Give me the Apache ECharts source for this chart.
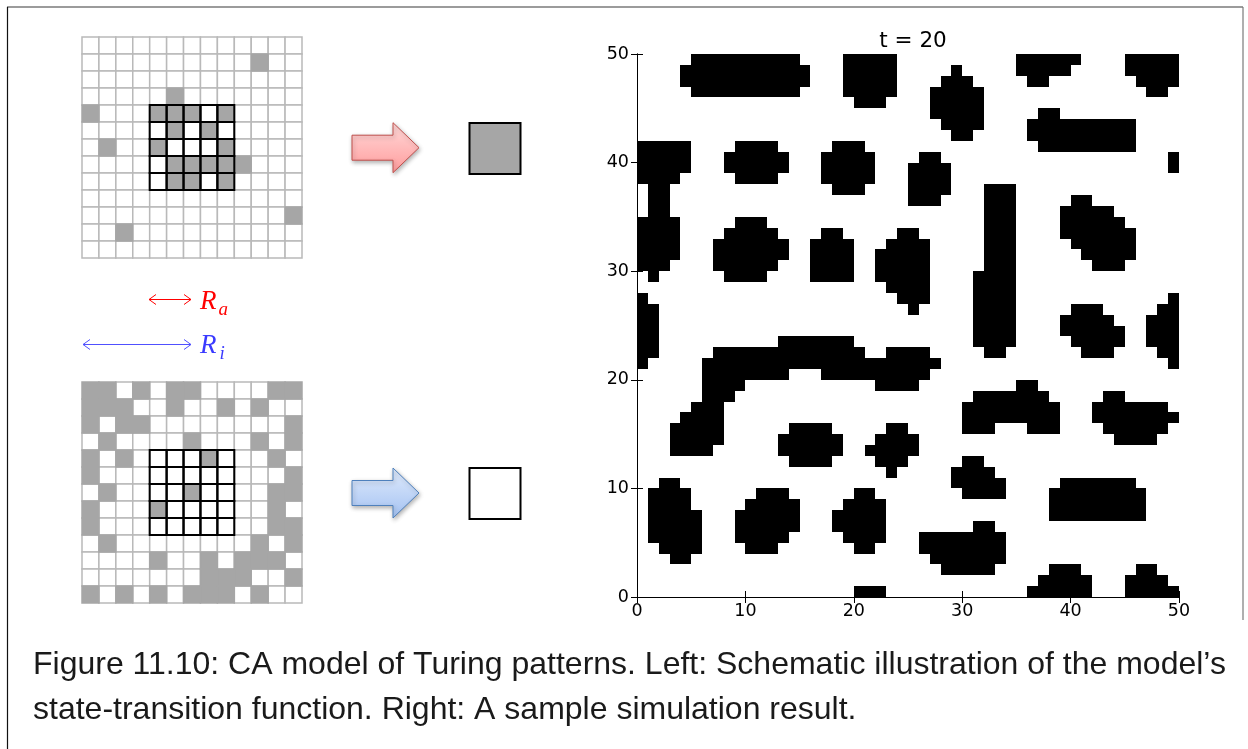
<!DOCTYPE html>
<html><head><meta charset="utf-8">
<script src="https://cdn.jsdelivr.net/npm/echarts@6/dist/echarts.min.js"></script>
<style>html,body{margin:0;padding:0;background:#fff}#c{width:1248px;height:749px}</style>
</head><body><div id="c"></div>
<script>
// ---------- DATA ----------
// Simulation state at t = 20: black runs [fromCol, toCol] per row, row 0 = top (y = 49)
const blackRuns = [
 [[5,14],[19,23],[35,40],[45,49]],
 [[4,15],[19,23],[29,29],[35,39],[45,49]],
 [[4,15],[19,23],[28,30],[36,37],[46,49]],
 [[5,14],[19,23],[27,31],[47,48]],
 [[20,22],[27,31]],
 [[27,31],[37,38]],
 [[28,31],[36,45]],
 [[29,30],[36,45]],
 [[0,4],[9,12],[18,20],[37,45]],
 [[0,4],[8,13],[17,21],[26,27],[49,49]],
 [[0,4],[8,13],[17,21],[25,28],[49,49]],
 [[0,3],[9,12],[17,21],[25,28]],
 [[1,2],[18,20],[25,28],[32,34]],
 [[1,2],[25,27],[32,34],[40,41]],
 [[1,2],[32,34],[39,43]],
 [[0,3],[9,11],[32,34],[39,44]],
 [[0,3],[8,12],[17,18],[24,25],[32,34],[39,45]],
 [[0,3],[7,13],[16,19],[23,26],[32,34],[40,45]],
 [[0,3],[7,13],[16,19],[22,26],[32,34],[41,45]],
 [[0,2],[7,12],[16,19],[22,26],[32,34],[42,44]],
 [[1,1],[8,11],[16,19],[22,26],[31,34]],
 [[23,26],[31,34]],
 [[0,0],[24,26],[31,34],[49,49]],
 [[0,1],[25,25],[31,34],[40,42],[48,49]],
 [[0,1],[31,34],[39,43],[47,49]],
 [[0,1],[31,34],[39,44],[47,49]],
 [[0,1],[13,19],[31,34],[40,44],[47,49]],
 [[0,1],[7,20],[23,26],[32,33],[41,43],[48,49]],
 [[0,0],[6,27],[49,49]],
 [[6,13],[17,26]],
 [[6,9],[22,25],[35,36]],
 [[6,8],[31,37],[43,44]],
 [[5,7],[30,38],[42,48]],
 [[4,7],[30,38],[42,49]],
 [[3,7],[14,17],[23,24],[30,32],[36,38],[43,48]],
 [[3,7],[13,18],[22,25],[44,47]],
 [[3,6],[13,18],[21,25]],
 [[14,17],[22,24],[30,31]],
 [[23,23],[29,32]],
 [[2,3],[29,33],[39,45]],
 [[1,4],[11,13],[20,21],[30,33],[38,46]],
 [[1,4],[10,14],[19,22],[38,46]],
 [[1,5],[9,14],[18,22],[38,46]],
 [[1,5],[9,14],[18,22],[31,32]],
 [[1,5],[9,13],[19,22],[26,33]],
 [[2,5],[10,12],[20,21],[26,33]],
 [[3,4],[27,33]],
 [[28,32],[38,40],[46,47]],
 [[37,41],[45,48]],
 [[20,22],[36,41],[45,49]]
];
const gridSize = 50;
const plotTitle = 't = 20';

// Schematic neighbourhoods (1 = grey / active cell), row 0 = top
const topSchematic = [
 "0000000000000",
 "0000000000100",
 "0000000000000",
 "0000010000000",
 "1000111010000",
 "0000010100000",
 "0100100010000",
 "0000011111000",
 "0000011010000",
 "0000000000000",
 "0000000000001",
 "0010000000000",
 "0000000000000"
];
const bottomSchematic = [
 "1101011000011",
 "1110010010100",
 "1011000000001",
 "0100001000101",
 "1010000100010",
 "1000000000001",
 "0100001000011",
 "1000100000010",
 "1000000000011",
 "0100000000101",
 "0000100101110",
 "0000000111001",
 "1010101110100"
];
const neighbourStart = 4, neighbourSize = 5;
const rangeLabels = ['a', 'i'];
const captionLines = [
 "Figure 11.10: CA model of Turing patterns. Left: Schematic illustration of the model\u2019s",
 "state-transition function. Right: A sample simulation result."
];

// ---------- BUILD ----------
const cells = [];
blackRuns.forEach((runs, r) => {
  runs.forEach(([a, b]) => { for (let c = a; c <= b; c++) cells.push([c, gridSize - 1 - r]); });
});
function schematicData(rows) {
  const d = [];
  rows.forEach((s, r) => { for (let c = 0; c < s.length; c++) d.push([c, r, +s[c]]); });
  d.sort((p, q) => p[2] - q[2]); // white cells first, grey cells painted over grid lines
  return d;
}
const innerCells = [];
for (let r = neighbourStart; r < neighbourStart + neighbourSize; r++)
  for (let c = neighbourStart; c < neighbourStart + neighbourSize; c++) innerCells.push([c, r]);

function cellRender(params, api) {
  const c = api.value(0), r = api.value(1);
  const p0 = api.coord([c, r + 1]), p1 = api.coord([c + 1, r]);
  const x0 = Math.round(p0[0]), y0 = Math.round(p0[1]), x1 = Math.round(p1[0]), y1 = Math.round(p1[1]);
  return { type: 'rect', shape: { x: x0, y: y0, width: x1 - x0, height: y1 - y0 }, style: { fill: '#000' } };
}
function schemRender(params, api) {
  const c = api.value(0), r = api.value(1), v = api.value(2);
  const p0 = api.coord([c, r]), p1 = api.coord([c + 1, r + 1]);
  return { type: 'rect', shape: { x: p0[0], y: p0[1], width: p1[0] - p0[0], height: p1[1] - p0[1] },
    style: v ? { fill: '#a6a6a6', stroke: '#a6a6a6', lineWidth: 1.5 }
             : { fill: '#ffffff', stroke: '#b9b9b9', lineWidth: 1.5 } };
}
function innerRender(params, api) {
  const c = api.value(0), r = api.value(1);
  const p0 = api.coord([c, r]), p1 = api.coord([c + 1, r + 1]);
  return { type: 'rect', shape: { x: p0[0], y: p0[1], width: p1[0] - p0[0], height: p1[1] - p0[1] },
    style: { fill: null, stroke: '#000', lineWidth: 2 } };
}

const tickFont = { fontFamily: 'DejaVu Sans', fontSize: 17.5, color: '#000' };
const frameAxis = { show: true, lineStyle: { color: '#000', width: 1 } };
const tickIn = { show: true, inside: true, length: 6, lineStyle: { color: '#000', width: 1 } };
const hiddenAx = (gi, inv) => ({ gridIndex: gi, type: 'value', min: 0, max: 13, show: false, inverse: !!inv });

function chevrons(x0, x1, y, color) {
  return [
    { type: 'line', shape: { x1: x0, y1: y, x2: x1, y2: y }, style: { stroke: color, lineWidth: 1 } },
    { type: 'polyline', shape: { points: [[x0 + 7, y - 5], [x0, y], [x0 + 7, y + 5]] }, style: { stroke: color, lineWidth: 1, fill: null } },
    { type: 'polyline', shape: { points: [[x1 - 7, y - 5], [x1, y], [x1 - 7, y + 5]] }, style: { stroke: color, lineWidth: 1, fill: null } }
  ];
}
function blockArrow(cy, c0, c1, stroke) {
  return { type: 'polygon', shape: { points: [[352, cy - 12.5], [393, cy - 12.5], [393, cy - 25], [419, cy], [393, cy + 25], [393, cy + 12.5], [352, cy + 12.5]] },
    style: { fill: new echarts.graphic.LinearGradient(0, 0, 0, 1, [{ offset: 0, color: c0 }, { offset: 1, color: c1 }]),
      stroke: stroke, lineWidth: 1, shadowBlur: 4, shadowOffsetX: 1, shadowOffsetY: 2, shadowColor: 'rgba(0,0,0,0.3)' } };
}

const chart = echarts.init(document.getElementById('c'), null, { renderer: 'canvas' });
chart.setOption({
  animation: false,
  backgroundColor: '#ffffff',
  title: { text: plotTitle, left: 908, top: 25, textAlign: 'center',
    textStyle: { fontFamily: 'DejaVu Sans', fontSize: 21.5, fontWeight: 'normal', color: '#000' } },
  grid: [
    { left: 637, top: 54, width: 542, height: 543 },
    { left: 82, top: 37, width: 220, height: 221 },
    { left: 82, top: 382, width: 220, height: 221 }
  ],
  xAxis: [
    { gridIndex: 0, type: 'value', min: 0, max: gridSize, interval: 10, position: 'bottom', z: 10,
      axisLine: frameAxis, axisTick: tickIn, splitLine: { show: false }, axisLabel: Object.assign({ margin: 5 }, tickFont) },
    { gridIndex: 0, type: 'value', min: 0, max: gridSize, interval: 10, position: 'top', z: 10,
      axisLine: frameAxis, axisTick: tickIn, splitLine: { show: false }, axisLabel: { show: false } },
    hiddenAx(1), hiddenAx(2)
  ],
  yAxis: [
    { gridIndex: 0, type: 'value', min: 0, max: gridSize, interval: 10, position: 'left', z: 10,
      axisLine: frameAxis, axisTick: tickIn, splitLine: { show: false }, axisLabel: Object.assign({ margin: 8 }, tickFont) },
    { gridIndex: 0, type: 'value', min: 0, max: gridSize, interval: 10, position: 'right', z: 10,
      axisLine: frameAxis, axisTick: tickIn, splitLine: { show: false }, axisLabel: { show: false } },
    hiddenAx(1, true), hiddenAx(2, true)
  ],
  series: [
    { type: 'custom', xAxisIndex: 0, yAxisIndex: 0, renderItem: cellRender, data: cells, z: 2, silent: true },
    { type: 'custom', xAxisIndex: 2, yAxisIndex: 2, renderItem: schemRender, data: schematicData(topSchematic), z: 2, silent: true },
    { type: 'custom', xAxisIndex: 2, yAxisIndex: 2, renderItem: innerRender, data: innerCells, z: 3, silent: true },
    { type: 'custom', xAxisIndex: 3, yAxisIndex: 3, renderItem: schemRender, data: schematicData(bottomSchematic), z: 2, silent: true },
    { type: 'custom', xAxisIndex: 3, yAxisIndex: 3, renderItem: innerRender, data: innerCells, z: 3, silent: true }
  ],
  graphic: [
    // figure frame
    { type: 'line', shape: { x1: 7, y1: 7, x2: 1243, y2: 7 }, style: { stroke: '#7a7a7a', lineWidth: 1.5 } },
    { type: 'line', shape: { x1: 7.5, y1: 7, x2: 7.5, y2: 749 }, style: { stroke: '#111', lineWidth: 1.2 } },
    { type: 'line', shape: { x1: 1243, y1: 7, x2: 1243, y2: 620 }, style: { stroke: '#7a7a7a', lineWidth: 1.2 } },
    // transition arrows and results
    blockArrow(147.7, '#ffd9d9', '#ff9c9c', '#c0504d'),
    blockArrow(493, '#e0ebfc', '#a4c2f2', '#4f81bd'),
    { type: 'rect', shape: { x: 469.5, y: 123, width: 51, height: 51 }, style: { fill: '#a6a6a6', stroke: '#000', lineWidth: 2 } },
    { type: 'rect', shape: { x: 469.5, y: 468, width: 51, height: 51 }, style: { fill: '#ffffff', stroke: '#000', lineWidth: 2 } },
    // ranges
    { type: 'group', children: chevrons(149, 191, 299.5, '#ff0000') },
    { type: 'group', children: chevrons(83, 191, 344.5, '#5050ff') },
    { type: 'text', x: 200, y: 302, style: { text: 'R', fontFamily: 'Liberation Serif', fontStyle: 'italic', fontSize: 27, fill: '#ff0000', verticalAlign: 'middle' } },
    { type: 'text', x: 218.5, y: 310, style: { text: rangeLabels[0], fontFamily: 'Liberation Serif', fontStyle: 'italic', fontSize: 19, fill: '#ff0000', verticalAlign: 'middle' } },
    { type: 'text', x: 200, y: 346, style: { text: 'R', fontFamily: 'Liberation Serif', fontStyle: 'italic', fontSize: 27, fill: '#3a3aff', verticalAlign: 'middle' } },
    { type: 'text', x: 219.5, y: 354, style: { text: rangeLabels[1], fontFamily: 'Liberation Serif', fontStyle: 'italic', fontSize: 19, fill: '#3a3aff', verticalAlign: 'middle' } },
    // caption
    { type: 'text', x: 33, y: 665, style: { text: captionLines[0], fontFamily: 'Liberation Sans', fontSize: 32, fill: '#1a1a1a', verticalAlign: 'middle' } },
    { type: 'text', x: 33, y: 710, style: { text: captionLines[1], fontFamily: 'Liberation Sans', fontSize: 32, fill: '#1a1a1a', verticalAlign: 'middle' } }
  ]
});
</script></body></html>
